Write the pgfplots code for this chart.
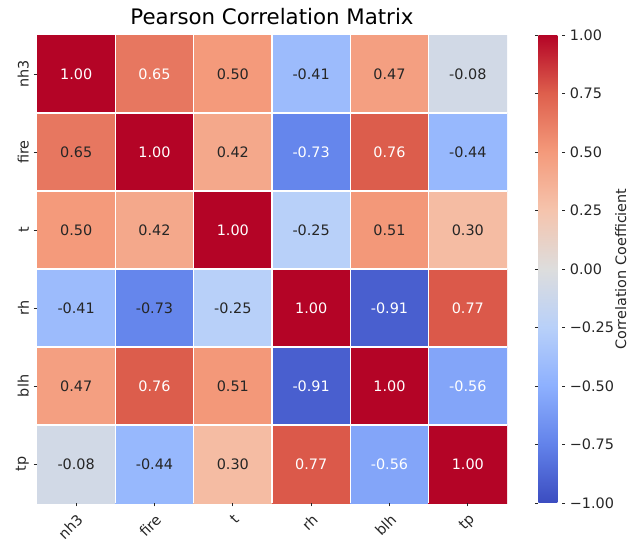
\documentclass[border=0pt]{standalone}
\usepackage{pgfplots}
\pgfplotsset{compat=1.18}
\usepackage{fontspec}
\setmainfont{DejaVu Sans}
\definecolor{txtdark}{HTML}{262626}
\begin{document}
\begin{tikzpicture}
\begin{axis}[
  name=main,
  scale only axis,
  width=352.5pt, height=351pt,
  xmin=-0.5, xmax=5.5, ymin=-0.5, ymax=5.5,
  y dir=reverse,
  enlargelimits=false,
  axis on top,
  axis line style={draw=none},
  xtick={0,...,5}, ytick={0,...,5},
  xticklabels={nh3,fire,t,rh,blh,tp},
  yticklabels={nh3,fire,t,rh,blh,tp},
  xtick pos=lower, ytick pos=left,
  tick align=outside,
  major tick length=2.6pt,
  tick style={txtdark, line width=0.6pt},
  xticklabel style={rotate=45, anchor=north east, font=\fontsize{10.8}{12}\selectfont, text=txtdark},
  yticklabel style={rotate=90, anchor=south, font=\fontsize{10.8}{12}\selectfont, text=txtdark},
  minor xtick={0.5,1.5,2.5,3.5,4.5},
  minor ytick={0.5,1.5,2.5,3.5,4.5},
  minor tick length=0pt,
  grid=minor,
  minor grid style={white, line width=0.8pt},
  title={Pearson Correlation Matrix},
  title style={font=\fontsize{16}{18}\selectfont, text=black, yshift=-2pt},
  colormap={coolwarm}{rgb255=(59,76,192) rgb255=(98,130,234) rgb255=(141,176,254) rgb255=(184,208,249) rgb255=(221,221,221) rgb255=(245,196,173) rgb255=(244,154,123) rgb255=(222,96,77) rgb255=(180,4,38)},
  point meta min=-1, point meta max=1,
  colorbar,
  colorbar style={
    at={(parent axis.north east)}, anchor=north west, xshift=15pt,
    width=17.5pt,
    axis line style={draw=none},
    ytick={-1,-0.75,-0.5,-0.25,0,0.25,0.5,0.75,1},
    yticklabels={−1.00,−0.75,−0.50,−0.25,0.00,0.25,0.50,0.75,1.00},
    yticklabel style={font=\fontsize{10.8}{12}\selectfont, text=txtdark},
    tick align=outside, major tick length=2.6pt,
    tick style={txtdark, line width=0.6pt},
    ylabel={Correlation Coefficient},
    ylabel shift=-6pt,
    ylabel style={font=\fontsize{10.8}{12}\selectfont, text=txtdark},
  },
]
\addplot[matrix plot*, mesh/cols=6, point meta=explicit] table[meta=c] {
x y c
0 0 1.00
1 0 0.65
2 0 0.50
3 0 -0.41
4 0 0.47
5 0 -0.08
0 1 0.65
1 1 1.00
2 1 0.42
3 1 -0.73
4 1 0.76
5 1 -0.44
0 2 0.50
1 2 0.42
2 2 1.00
3 2 -0.25
4 2 0.51
5 2 0.30
0 3 -0.41
1 3 -0.73
2 3 -0.25
3 3 1.00
4 3 -0.91
5 3 0.77
0 4 0.47
1 4 0.76
2 4 0.51
3 4 -0.91
4 4 1.00
5 4 -0.56
0 5 -0.08
1 5 -0.44
2 5 0.30
3 5 0.77
4 5 -0.56
5 5 1.00
};
% white annotations
\addplot[only marks, mark=none, nodes near coords, point meta=explicit symbolic,
  every node near coord/.append style={anchor=center, text=white, font=\fontsize{10.8}{12}\selectfont}]
  table[meta=lab] {
x y lab
0 0 1.00
1 0 0.65
1 1 1.00
3 1 -0.73
4 1 0.76
2 2 1.00
3 3 1.00
4 3 -0.91
5 3 0.77
1 4 0.76
3 4 -0.91
4 4 1.00
5 4 -0.56
3 5 0.77
4 5 -0.56
5 5 1.00
};
% dark annotations
\addplot[only marks, mark=none, nodes near coords, point meta=explicit symbolic,
  every node near coord/.append style={anchor=center, text=txtdark, font=\fontsize{10.8}{12}\selectfont}]
  table[meta=lab] {
x y lab
2 0 0.50
3 0 -0.41
4 0 0.47
5 0 -0.08
0 1 0.65
2 1 0.42
5 1 -0.44
0 2 0.50
1 2 0.42
3 2 -0.25
4 2 0.51
5 2 0.30
0 3 -0.41
1 3 -0.73
2 3 -0.25
0 4 0.47
2 4 0.51
0 5 -0.08
1 5 -0.44
2 5 0.30
};
\end{axis}
\pgfresetboundingbox
\path[use as bounding box] ([xshift=-27.75pt,yshift=-27pt]main.south west) rectangle ([xshift=91.5pt,yshift=26.25pt]main.north east);
\end{tikzpicture}
\end{document}
